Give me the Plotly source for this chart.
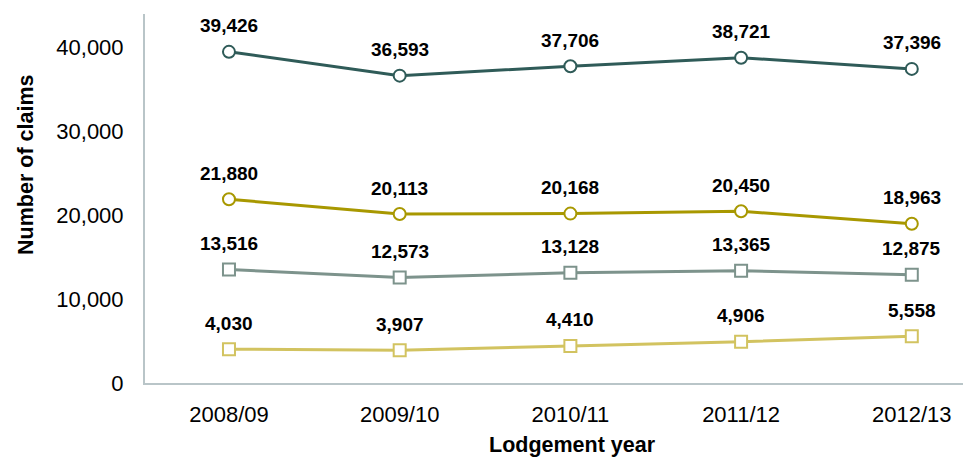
import plotly.graph_objects as go

years = ["2008/09", "2009/10", "2010/11", "2011/12", "2012/13"]
series_a = [39426, 36593, 37706, 38721, 37396]
series_b = [21880, 20113, 20168, 20450, 18963]
series_c = [13516, 12573, 13128, 13365, 12875]
series_d = [4030, 3907, 4410, 4906, 5558]
y_ticks = [0, 10000, 20000, 30000, 40000]

FONT = "Liberation Sans, Arial"

styles = [
    (series_a, "#2f5b58", "circle"),
    (series_b, "#a89800", "circle"),
    (series_c, "#7d938c", "square"),
    (series_d, "#d2c360", "square"),
]

fig = go.Figure()
for vals, col, sym in styles:
    fig.add_trace(go.Scatter(
        x=years, y=vals, mode="lines+markers",
        line=dict(color=col, width=3),
        marker=dict(symbol=sym, size=12, color="white", line=dict(color=col, width=2)),
        showlegend=False, hoverinfo="skip",
    ))
    for xv, yv in zip(years, vals):
        fig.add_annotation(x=xv, y=yv, text=f"<b>{yv:,}</b>", showarrow=False,
                           yshift=26, font=dict(family=FONT, size=19, color="black"))

# axis titles
fig.add_annotation(xref="paper", yref="paper", x=0.523, y=-0.168, text="<b>Lodgement year</b>",
                   showarrow=False, xanchor="center", yanchor="middle",
                   font=dict(family=FONT, size=21.5, color="black"))
fig.add_annotation(xref="paper", yref="paper", x=-0.1455, y=0.591, text="<b>Number of claims</b>",
                   showarrow=False, xanchor="center", yanchor="middle", textangle=-90,
                   font=dict(family=FONT, size=21.5, color="black"))

fig.update_layout(
    width=963, height=457,
    margin=dict(l=145, r=0, t=14, b=74),
    plot_bgcolor="white", paper_bgcolor="white",
    font=dict(family=FONT, size=22, color="black"),
)
fig.update_xaxes(
    range=[-0.492, 4.30], showgrid=False, showline=True, linecolor="#b9c5c8", linewidth=2,
    ticks="", ticklabelstandoff=11, tickfont=dict(size=22),
)
fig.update_yaxes(
    range=[0, 43930], showgrid=False, showline=True, linecolor="#b9c5c8", linewidth=2,
    tickvals=y_ticks, tickformat=",", ticks="", ticklabelstandoff=15, tickfont=dict(size=22),
    zeroline=False,
)
fig.write_html("out.html")
